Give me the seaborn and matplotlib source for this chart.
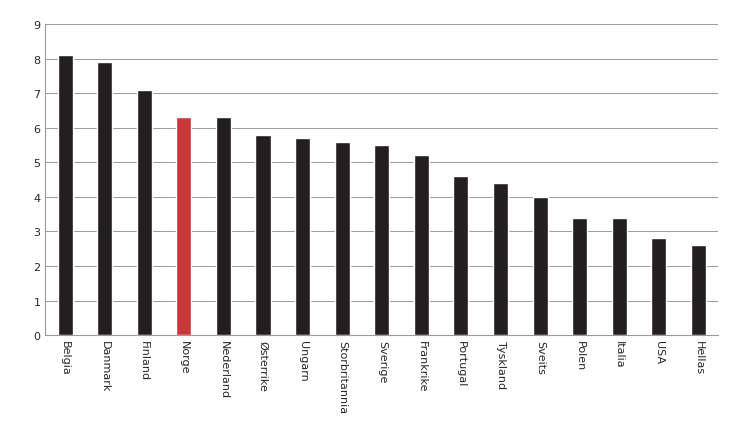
import matplotlib
matplotlib.use("Agg")
import matplotlib.pyplot as plt
import pandas as pd
import seaborn as sns

COUNTRIES = ["Belgia", "Danmark", "Finland", "Norge", "Nederland", "Østerrike", "Ungarn",
             "Storbritannia", "Sverige", "Frankrike", "Portugal", "Tyskland", "Sveits",
             "Polen", "Italia", "USA", "Hellas"]
VALUES = [8.1, 7.9, 7.1, 6.3, 6.3, 5.8, 5.7, 5.6, 5.5, 5.2, 4.6, 4.4, 4.0, 3.4, 3.4, 2.8, 2.6]
HIGHLIGHT = "Norge"

df = pd.DataFrame({"land": COUNTRIES, "verdi": VALUES})
palette = {c: ("#c8373a" if c == HIGHLIGHT else "#231f20") for c in COUNTRIES}

sns.set_style("white")
plt.rcParams["font.family"] = ["DejaVu Sans"]
fig = plt.figure(figsize=(7.3, 4.31), dpi=100)
ax = fig.add_axes([0.062, 0.22, 0.922, 0.722])
sns.barplot(data=df, x="land", y="verdi", hue="land", palette=palette,
            width=0.38, legend=False, ax=ax, saturation=1)

ax.set_ylim(0, 9)
ax.set_yticks(range(10))
ax.set_xlim(-0.5, len(COUNTRIES) - 0.5)
ax.yaxis.grid(True, color="#9a9a9a", linewidth=0.7)
ax.set_axisbelow(True)
for s in ["top", "right"]:
    ax.spines[s].set_visible(False)
ax.spines["left"].set_color("#9a9a9a")
ax.spines["bottom"].set_color("#9a9a9a")
ax.set_xlabel("")
ax.set_ylabel("")
ax.tick_params(axis="x", labelrotation=270, labelsize=8, length=0)
ax.tick_params(axis="y", labelsize=8, length=0)
for lbl in ax.get_xticklabels():
    lbl.set_va("top")

fig.savefig("out.png", dpi=100)
